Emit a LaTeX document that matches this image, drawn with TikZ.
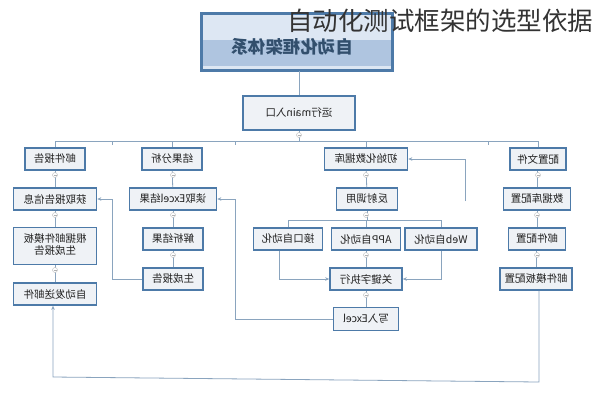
\documentclass[tikz,border=0pt]{standalone}
\usepackage{fontspec}
\usepackage{graphicx}
\setmainfont{Noto Sans CJK SC}
\usetikzlibrary{arrows.meta,calc}
\definecolor{boxblue}{HTML}{4D7AA8}
\definecolor{boxfill}{HTML}{EFF2F6}
\definecolor{linec}{HTML}{8AA4BE}
\definecolor{txtc}{HTML}{222222}
\definecolor{topfill}{HTML}{DDE7F3}
\definecolor{topband}{HTML}{AFC5E0}
\newcommand\mirtxt[1]{\scalebox{-1}[1]{#1}}
\tikzset{
  bx/.style={draw=boxblue,line width=1.6pt,fill=boxfill,inner sep=0pt,
    minimum height=22pt,text=txtc,font=\fontsize{10.5}{12}\selectfont},
  conn/.style={draw=linec,line width=0.8pt},
  arr/.style={conn,-{Stealth[length=4pt,width=3.5pt]}},
  knob/.style={circle,draw=gray!55,fill=white,line width=0.4pt,inner sep=0pt,minimum size=5pt}
}
\newcommand\knobat[1]{\node[knob] at (#1) {}; \draw[gray!60,line width=0.4pt] ($(#1)+(-1.5pt,0)$) -- ($(#1)+(1.5pt,0)$);}
\begin{document}
\begin{tikzpicture}[x=1pt,y=-1pt]
\useasboundingbox (0,0) rectangle (594,400);
\fill[white] (0,0) rectangle (594,400);
% top box
\node[draw=boxblue,line width=1.8pt,fill=topfill,minimum width=190pt,minimum height=56pt,inner sep=0pt] (top) at (297,42) {};
\fill[topband] (203,40) rectangle (391,66);
\draw[draw=boxblue,line width=1.8pt] (top.north west) rectangle (top.south east);
\node[text=boxblue!65!black,font=\fontsize{17.5}{19}\bfseries\selectfont] (toplab) at (292,47) {\mirtxt{自动化框架体系}};
\node[text=black!80,font=\fontsize{25.5}{27}\selectfont,anchor=west,inner sep=0pt] (title) at (287,21) {自动化测试框架的选型依据};
% main
\node[bx,minimum width=112pt,minimum height=34pt] (main) at (299,113) {\mirtxt{运行main入口}};
% column headers
\node[bx,minimum width=60pt] (mail) at (55,159) {\mirtxt{邮件报告}};
\node[bx,minimum width=60pt] (res) at (172,159) {\mirtxt{结果分析}};
\node[bx,minimum width=83pt] (init) at (366,159) {\mirtxt{初始化数据库}};
\node[bx,minimum width=56pt] (cfg) at (538,159) {\mirtxt{配置文件}};
% row 2
\node[bx,minimum width=83pt] (getinfo) at (55,199) {\mirtxt{获取报告信息}};
\node[bx,minimum width=87pt] (readxl) at (173,199) {\mirtxt{读取Excel结果}};
\node[bx,minimum width=61pt] (refl) at (367,199) {\mirtxt{反射调用}};
\node[bx,minimum width=67pt] (dbcfg) at (537,199) {\mirtxt{数据库配置}};
% row 3
\node[bx,minimum width=83pt,minimum height=37pt] (gen2) at (55,246) {\mirtxt{\begin{tabular}{@{}c@{}}根据邮件模板\\[-1pt]生成报告\end{tabular}}};
\node[bx,minimum width=60pt] (parse) at (173,239) {\mirtxt{解析结果}};
\node[bx,minimum width=69pt] (api) at (288,239) {\mirtxt{接口自动化}};
\node[bx,minimum width=69pt] (app) at (366,239) {\mirtxt{APP自动化}};
\node[bx,minimum width=72pt] (web) at (441,239) {\mirtxt{Web自动化}};
\node[bx,minimum width=57pt] (mailcfg) at (537,239) {\mirtxt{邮件配置}};
% row 4
\node[bx,minimum width=83pt] (send) at (55,294) {\mirtxt{自动发送邮件}};
\node[bx,minimum width=60pt] (genrep) at (173,279) {\mirtxt{生成报告}};
\node[bx,minimum width=72pt] (kw) at (366,279) {\mirtxt{关键字执行}};
\node[bx,minimum width=72pt] (tplcfg) at (536,279) {\mirtxt{邮件模板配置}};
\node[bx,minimum width=65pt,minimum height=23pt] (wxl) at (366,319) {\mirtxt{写入Excel}};
% connectors
\draw[conn] (top.south -| main.north) -- (main.north);
\coordinate (busy) at (0,141);
\draw[conn] (main.south) -- (main.south |- busy);
\draw[conn] (mail.north) -- (mail.north |- busy) -- (cfg.north |- busy) -- (cfg.north);
\draw[conn] (res.north |- busy) -- (res.north);
\draw[conn] (init.north |- busy) -- (init.north);
\foreach \xx in {112,235,488} \draw[conn,line width=0.5pt] (\xx,141) -- (\xx,145);
% columns
\draw[conn] (mail) -- (getinfo);
\draw[conn] (getinfo) -- (gen2);
\draw[conn] (gen2) -- (send);
\draw[conn] (res) -- (readxl);
\draw[conn] (readxl) -- (parse);
\draw[conn] (parse) -- (genrep);
\draw[conn] (init) -- (refl);
\draw[conn] (cfg.south -| dbcfg.north) -- (dbcfg.north);
\draw[conn] (dbcfg) -- (mailcfg);
\draw[conn] (mailcfg.south -| tplcfg.north) -- (tplcfg.north);
\coordinate (rb) at (0,220);
\draw[conn] (refl.south) -- (refl.south |- rb);
\draw[conn] (api.north) -- (api.north |- rb) -- (web.north |- rb) -- (web.north);
\draw[conn] (app.north |- rb) -- (app.north);
\draw[conn] (app) -- (kw);
\draw[conn] (kw) -- (wxl);
% feedback arrows
\draw[arr] (genrep.west) -- (112,279) -- (112,199) -- (getinfo.east);
\draw[arr] (wxl.west) -- (235,319) -- (235,199) -- (readxl.east);
\draw[arr] ([xshift=-9pt]api.south) |- (kw.west);
\draw[arr] (web.south) |- (kw.east);
\coordinate (fb) at (465,201);
\draw[arr] (fb) |- (init.east);
\draw[arr] (tplcfg.south -| 539,0) -- (539,382) -- (53,377) -- (send.south -| 53,0);
% knobs
\knobat{55,175}
\knobat{55,215}
\knobat{55,270}
\knobat{173,175}
\knobat{173,215}
\knobat{173,255}
\knobat{366,175}
\knobat{366,215}
\knobat{366,255}
\knobat{366,295}
\knobat{538,175}
\knobat{537,215}
\knobat{537,255}
\knobat{299,135}
\end{tikzpicture}
\end{document}
